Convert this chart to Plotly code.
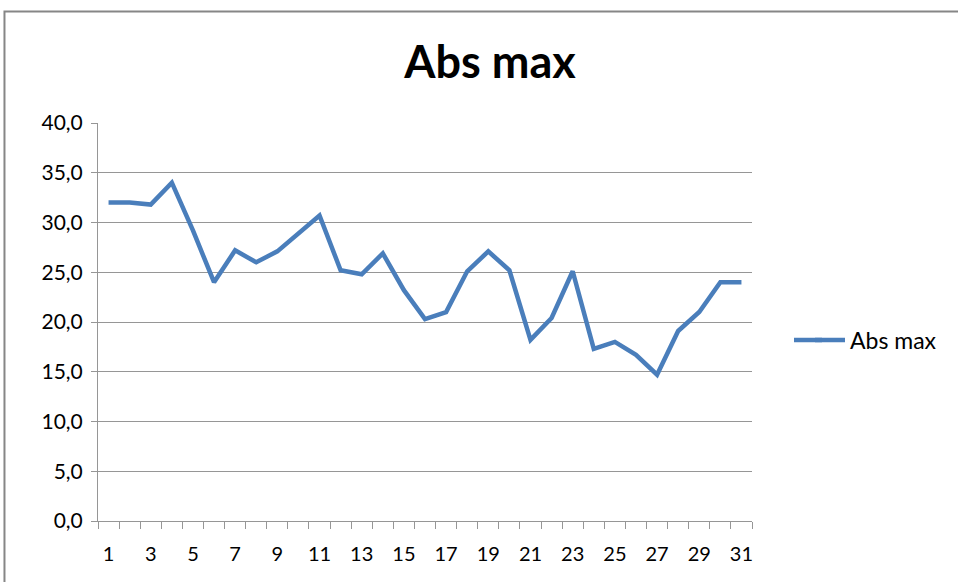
import plotly.graph_objects as go

days = list(range(1, 32))
abs_max = [32.0, 32.0, 31.8, 34.0, 29.2, 24.0, 27.2, 26.0, 27.1, 28.9,
           30.7, 25.2, 24.8, 26.9, 23.2, 20.3, 21.0, 25.1, 27.1, 25.2,
           18.2, 20.4, 25.1, 17.3, 18.0, 16.7, 14.7, 19.1, 21.0, 24.0, 24.0]
x_tick_labels = [str(d) for d in range(1, 32, 2)]
y_ticks = [0, 5, 10, 15, 20, 25, 30, 35, 40]

FONT = "Lato"
GRID = "#969696"
BLUE = "#4A7EBB"

fig = go.Figure()
fig.add_trace(go.Scatter(
    x=days, y=abs_max, mode="lines", name="Abs max",
    line=dict(color=BLUE, width=4.5),
))

fig.update_layout(
    width=958, height=582,
    paper_bgcolor="white", plot_bgcolor="white",
    separators=",.",
    margin=dict(l=98, r=206, t=123, b=61),
    font=dict(family=FONT, size=20, color="#000000"),
    title=dict(text="<b>Abs max</b>", x=490 / 958, xanchor="center",
               y=1 - 62 / 582, yanchor="middle",
               font=dict(family=FONT, size=45, color="#000000")),
    showlegend=True,
    legend=dict(x=(810 - 98) / 654, xanchor="left", y=(521 - 340) / 398,
                yanchor="middle",
                font=dict(family=FONT, size=23, color="#000000"),
                bgcolor="rgba(0,0,0,0)"),
)

fig.update_xaxes(
    range=[0.5, 31.5], tickmode="array",
    tickvals=list(range(1, 32, 2)), ticktext=x_tick_labels,
    ticks="", showgrid=False, zeroline=False,
    showline=True, linecolor=GRID, linewidth=1,
    tickfont=dict(family=FONT, size=20),
    minor=dict(tickmode="array", tickvals=[i + 0.5 for i in range(0, 32)],
               ticks="outside", ticklen=7, tickcolor=GRID, showgrid=False),
    ticklabelstandoff=15,
)
fig.update_yaxes(
    range=[0, 40], tickmode="array", tickvals=y_ticks, tickformat=".1f",
    ticks="outside", ticklen=6, tickcolor=GRID,
    showgrid=True, gridcolor=GRID, gridwidth=1, zeroline=False,
    showline=True, linecolor=GRID, linewidth=1,
    tickfont=dict(family=FONT, size=21),
    ticklabelstandoff=4,
)

# outer chart-area frame (left and top edges visible)
fig.add_shape(type="path", xref="paper", yref="paper",
              path="M %.4f,-0.20 L %.4f,%.4f L 1.40,%.4f" % (
                  (4.5 - 98) / 654, (4.5 - 98) / 654,
                  (521 - 11.5) / 398, (521 - 11.5) / 398),
              line=dict(color="#868686", width=2))

# extend the legend's line sample to the longer Excel-style swatch
fig.add_shape(type="line", xref="paper", yref="paper",
              x0=(794 - 98) / 654, x1=(822 - 98) / 654,
              y0=(521 - 340) / 398, y1=(521 - 340) / 398,
              line=dict(color=BLUE, width=4.5))

fig.write_html("out.html", config={"displayModeBar": False},
               post_script="document.body.style.margin='0';")
